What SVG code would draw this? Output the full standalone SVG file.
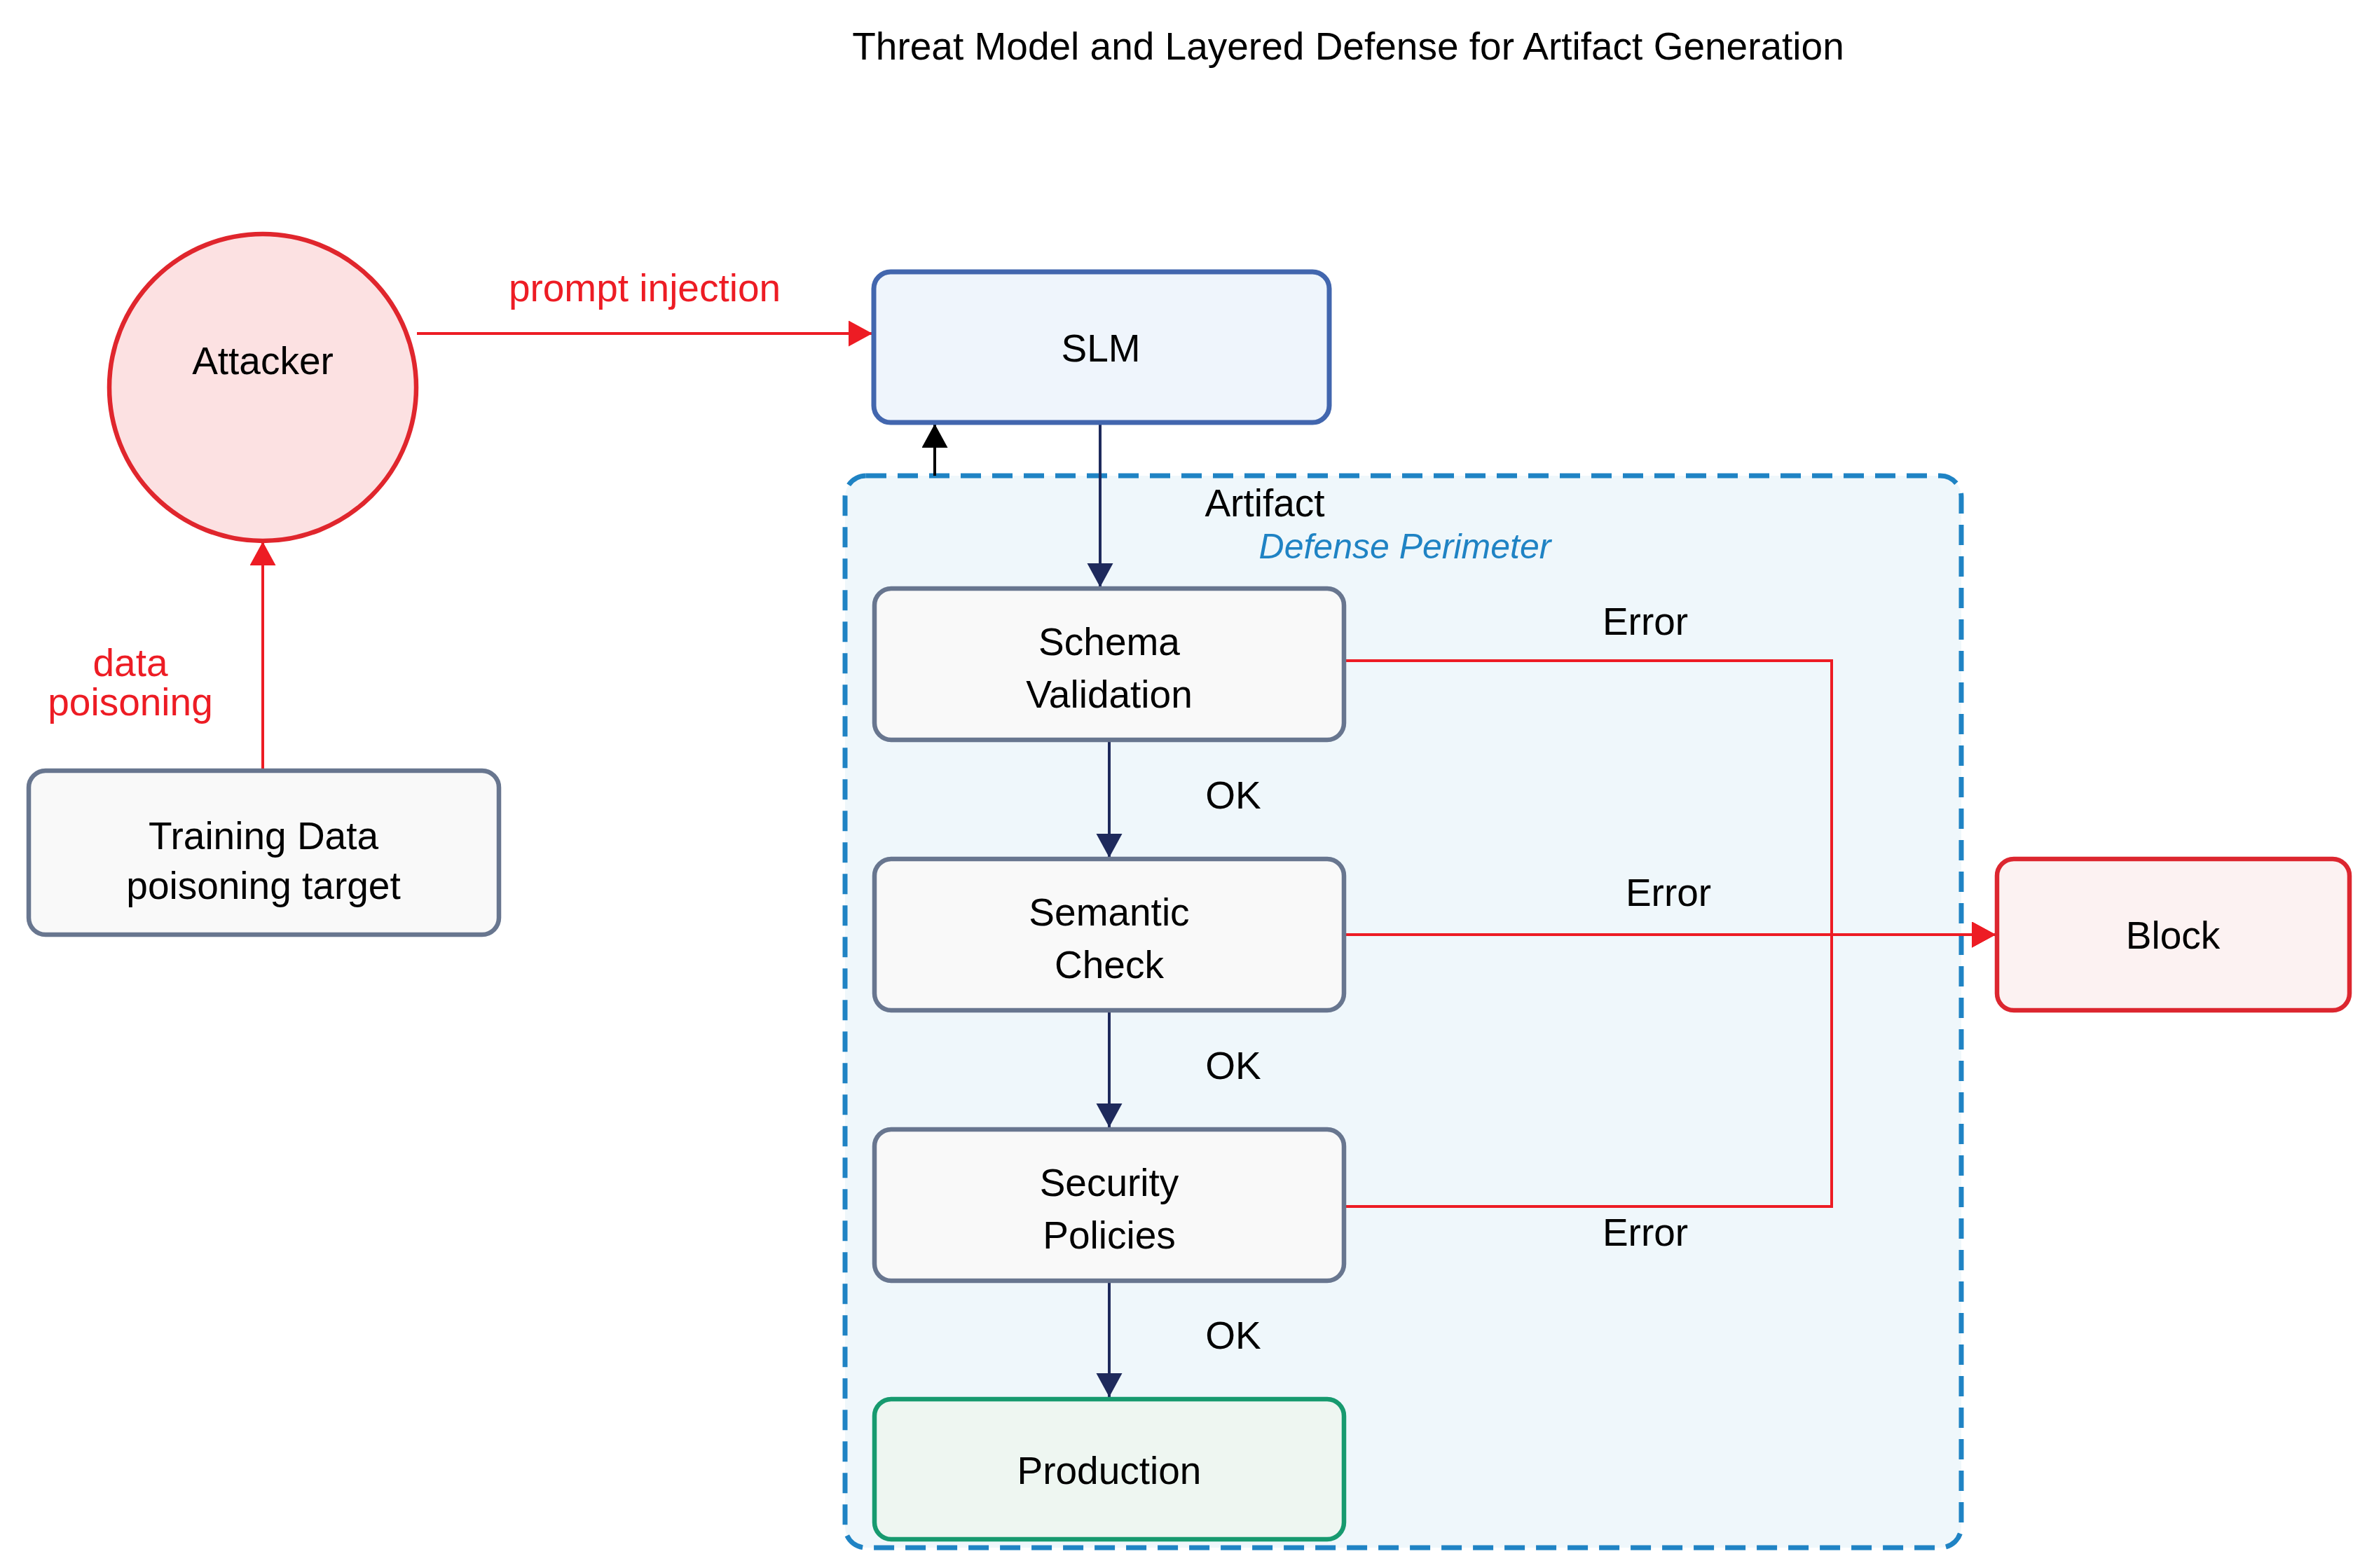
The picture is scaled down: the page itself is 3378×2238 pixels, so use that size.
<svg xmlns="http://www.w3.org/2000/svg" width="3378" height="2238" viewBox="0 0 3378 2238">
<style>
text{font-family:"Liberation Sans",Arial,sans-serif;font-size:55px;fill:#000;text-anchor:middle}
.red{fill:#ed1c24}
.italic{font-style:italic;font-size:50px;fill:#1f83c4}
.box{fill:#f9f9f9;stroke:#68768f;stroke-width:6.5}
.e-navy{fill:none;stroke:#1e2a5c;stroke-width:4}
.e-red{fill:none;stroke:#ed1c24;stroke-width:4}
.e-black{fill:none;stroke:#000;stroke-width:4}
</style>
<defs>
<marker id="aNavy" markerUnits="userSpaceOnUse" markerWidth="36" markerHeight="38" refX="34" refY="18.5" orient="auto"><path d="M0,0 L34,18.5 L0,37 z" fill="#1e2a5c"/></marker>
<marker id="aRed" markerUnits="userSpaceOnUse" markerWidth="36" markerHeight="38" refX="34" refY="18.5" orient="auto"><path d="M0,0 L34,18.5 L0,37 z" fill="#ed1c24"/></marker>
<marker id="aBlack" markerUnits="userSpaceOnUse" markerWidth="36" markerHeight="38" refX="34" refY="18.5" orient="auto"><path d="M0,0 L34,18.5 L0,37 z" fill="#000"/></marker>
</defs>
<rect width="3378" height="2238" fill="#fff"/>
<text x="1924" y="85">Threat Model and Layered Defense for Artifact Generation</text>

<g id="perimeter">
<rect x="1206" y="679" width="1593" height="1530" rx="30" fill="#eff7fb" stroke="#1f83c4" stroke-width="7" stroke-dasharray="29 16"/>
<text x="1805" y="737">Artifact</text>
<text class="italic" x="2005" y="797">Defense Perimeter</text>
</g>

<g id="connectors">
<path class="e-red" d="M595,476 H1245" marker-end="url(#aRed)"/>
<text class="red" x="920" y="430">prompt injection</text>
<path class="e-red" d="M375,1099 V773" marker-end="url(#aRed)"/>
<text class="red" x="186" y="965">data</text>
<text class="red" x="186" y="1021">poisoning</text>
<path class="e-black" d="M1334,679 V605" marker-end="url(#aBlack)"/>
<path class="e-navy" d="M1570,606 V838" marker-end="url(#aNavy)"/>
<path class="e-navy" d="M1583,1059 V1224" marker-end="url(#aNavy)"/>
<text x="1760" y="1154">OK</text>
<path class="e-navy" d="M1583,1445 V1609" marker-end="url(#aNavy)"/>
<text x="1760" y="1540">OK</text>
<path class="e-navy" d="M1583,1831 V1994" marker-end="url(#aNavy)"/>
<text x="1760" y="1925">OK</text>
<path class="e-red" d="M1921,943 H2614 V1334 H2848" marker-end="url(#aRed)"/>
<text x="2348" y="906">Error</text>
<path class="e-red" d="M1921,1334 H2848" marker-end="url(#aRed)"/>
<text x="2381" y="1293">Error</text>
<path class="e-red" d="M1921,1722 H2614 V1334 H2848" marker-end="url(#aRed)"/>
<text x="2348" y="1778">Error</text>
</g>

<g id="attacker">
<circle cx="375" cy="553" r="219" fill="#fce1e2" stroke="#e0262d" stroke-width="6.5"/>
<text x="375" y="534">Attacker</text>
</g>
<g id="training-data">
<rect class="box" x="41" y="1100" width="671" height="234" rx="24"/>
<text x="376" y="1212">Training Data</text>
<text x="376" y="1283">poisoning target</text>
</g>
<g id="slm">
<rect x="1247" y="388" width="650" height="215" rx="24" fill="#eff5fc" stroke="#4266ae" stroke-width="7"/>
<text x="1571" y="516">SLM</text>
</g>
<g id="schema-validation">
<rect class="box" x="1248" y="840" width="670" height="216" rx="24"/>
<text x="1583" y="935">Schema</text>
<text x="1583" y="1010">Validation</text>
</g>
<g id="semantic-check">
<rect class="box" x="1248" y="1226" width="670" height="216" rx="24"/>
<text x="1583" y="1321">Semantic</text>
<text x="1583" y="1396">Check</text>
</g>
<g id="security-policies">
<rect class="box" x="1248" y="1612" width="670" height="216" rx="24"/>
<text x="1583" y="1707">Security</text>
<text x="1583" y="1782">Policies</text>
</g>
<g id="production">
<rect x="1248" y="1997" width="670" height="200" rx="24" fill="#eef6f1" stroke="#179a6f" stroke-width="6.5"/>
<text x="1583" y="2118">Production</text>
</g>
<g id="block">
<rect x="2850" y="1226" width="503" height="216" rx="24" fill="#fcf2f2" stroke="#dc262f" stroke-width="6.5"/>
<text x="3101" y="1354">Block</text>
</g>
</svg>
